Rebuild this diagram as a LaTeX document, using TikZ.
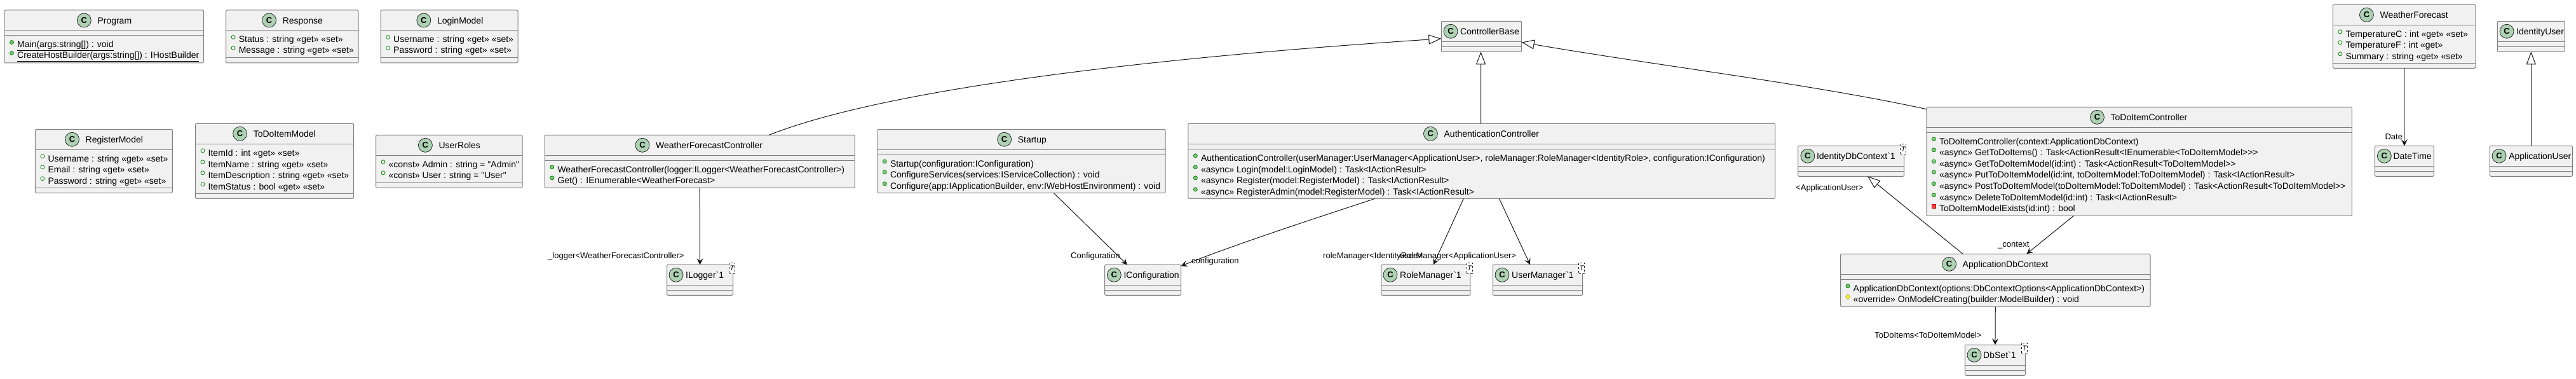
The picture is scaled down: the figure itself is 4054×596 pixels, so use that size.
\documentclass[tikz,border=0pt]{standalone}
\usepackage{fontspec}
\usetikzlibrary{arrows.meta,shapes.geometric}
\newfontfamily\umlfont{Liberation Sans}
\definecolor{boxfill}{HTML}{F1F1F1}
\definecolor{boxline}{HTML}{7F7F7F}
\definecolor{edgeline}{HTML}{181818}
\definecolor{spotfill}{HTML}{ADD1B2}
\tikzset{
  classbox/.style={draw=boxline,fill=boxfill,line width=1pt,rounded corners=2pt,inner sep=0pt,outer sep=0pt},
  classsep/.style={draw=boxline,line width=1pt},
  classmark/.style={circle,draw=edgeline,fill=spotfill,line width=.7pt,minimum size=22pt,inner sep=0pt,font=\umlfont\fontsize{13}{13}\selectfont\bfseries},
  classname/.style={anchor=base west,inner sep=0pt,font=\umlfont\fontsize{14}{16}\selectfont},
  rowtext/.style={anchor=base west,inner sep=0pt,font=\umlfont\fontsize{14}{16}\selectfont},
  edgelabel/.style={anchor=base west,inner sep=0pt,font=\umlfont\fontsize{13}{15}\selectfont},
  pubfield/.style={circle,draw=green!50!black,fill=white,line width=.8pt,minimum size=6pt,inner sep=0pt},
  pubmethod/.style={circle,draw=green!50!black,fill=green!40!gray!70,line width=.8pt,minimum size=6pt,inner sep=0pt},
  privmethod/.style={rectangle,draw=red!70!black,fill=red!75,line width=.6pt,minimum size=6pt,inner sep=0pt},
  protmethod/.style={diamond,draw=yellow!60!black,fill=yellow!90,line width=.6pt,minimum width=7pt,minimum height=9pt,inner sep=0pt},
  genericbox/.style={rectangle,dashed,draw=edgeline,fill=white,line width=.7pt,minimum width=9pt,minimum height=17pt,inner sep=0pt,font=\umlfont\fontsize{11}{11}\selectfont\itshape},
  inherit/.style={draw=edgeline,line width=1pt,-{Triangle[length=20pt,width=15pt,fill=white,line width=1pt]}},
  assoc/.style={draw=edgeline,line width=1pt,-{Stealth[length=10pt,width=10pt,inset=4pt]}},
}
% name, x1, y1, x2, y2, second rule, spot x, title offset, title
\newcommand{\umlclass}[9]{
  \node[classbox,minimum width={(#4-#2)*1pt},minimum height={(#5-#3)*1pt}] (#1) at ({(#2+#4)/2},{(#3+#5)/2}) {};
  \draw[classsep] (#2,{#3+32}) -- (#4,{#3+32});
  \draw[classsep] (#2,#6) -- (#4,#6);
  \node[classmark] (#1Spot) at (#7,{#3+16}) {C};
  \node[classname] (#1Name) at ({#7+#8},{#3+21.5}) {#9};
}
% class, baseline below the top, marker style, text
\newcommand{\umlrow}[4]{
  \node[#3] (#1Mark#2) at ([xshift=11.5pt,yshift={-(#2-8.5)*1pt}]#1.north west) {};
  \node[rowtext] (#1Row#2) at ([xshift=20pt,yshift={-#2*1pt}]#1.north west) {#4};
}
\newcommand{\umlgeneric}[1]{
  \node[genericbox] (#1Param) at ([xshift=-1.5pt,yshift=-5.5pt]#1.north east) {T};
}
\begin{document}
\begin{tikzpicture}[x=1pt,y=-1pt]
  \useasboundingbox (0,0) rectangle (4054,596);

  % classes, first row
  \umlclass{Program}{7}{16}{320.5}{99}{56}{132.3}{21}{Program}
  \umlrow{Program}{59}{pubmethod}{\underline{Main(args:string[]) : void}}
  \umlrow{Program}{76}{pubmethod}{\underline{CreateHostBuilder(args:string[]) : IHostBuilder}}
  \umlclass{Response}{355.6}{16}{564}{99}{91}{423.6}{21}{Response}
  \umlrow{Response}{51}{pubfield}{Status : string «get» «set»}
  \umlrow{Response}{68}{pubfield}{Message : string «get» «set»}
  \umlclass{LoginModel}{599}{16}{815}{99}{91}{666.8}{21}{LoginModel}
  \umlrow{LoginModel}{51}{pubfield}{Username : string «get» «set»}
  \umlrow{LoginModel}{68}{pubfield}{Password : string «get» «set»}
  \umlclass{ControllerBase}{2268.3}{33.3}{2394.7}{81.3}{73.3}{2283}{15}{ControllerBase}
  \umlclass{WeatherForecast}{3671.4}{7.3}{3895.7}{107.3}{99.3}{3724.4}{21}{WeatherForecast}
  \umlrow{WeatherForecast}{51}{pubfield}{TemperatureC : int «get» «set»}
  \umlrow{WeatherForecast}{68}{pubfield}{TemperatureF : int «get»}
  \umlrow{WeatherForecast}{86}{pubfield}{Summary : string «get» «set»}
  \umlclass{IdentityUser}{3930.3}{33.3}{4036.3}{81.3}{73.3}{3945}{15}{IdentityUser}

  % classes, second row
  \umlclass{RegisterModel}{55.4}{203.3}{271.4}{303.3}{295.3}{113.5}{21}{RegisterModel}
  \umlrow{RegisterModel}{51}{pubfield}{Username : string «get» «set»}
  \umlrow{RegisterModel}{68}{pubfield}{Email : string «get» «set»}
  \umlrow{RegisterModel}{86}{pubfield}{Password : string «get» «set»}
  \umlclass{ToDoItemModel}{307.5}{194.3}{556.5}{312.3}{304.3}{377.6}{21}{ToDoItemModel}
  \umlrow{ToDoItemModel}{51}{pubfield}{ItemId : int «get» «set»}
  \umlrow{ToDoItemModel}{69}{pubfield}{ItemName : string «get» «set»}
  \umlrow{ToDoItemModel}{86}{pubfield}{ItemDescription : string «get» «set»}
  \umlrow{ToDoItemModel}{104}{pubfield}{ItemStatus : bool «get» «set»}
  \umlclass{UserRoles}{591.5}{212.3}{822}{295.3}{287.3}{669.4}{21}{UserRoles}
  \umlrow{UserRoles}{51}{pubfield}{«const» Admin : string = "Admin"}
  \umlrow{UserRoles}{68}{pubfield}{«const» User : string = "User"}
  \umlclass{WeatherForecastController}{857.3}{212.3}{1345}{295.3}{252.3}{1011}{21}{WeatherForecastController}
  \umlrow{WeatherForecastController}{59}{pubmethod}{WeatherForecastController(logger:ILogger<WeatherForecastController>)}
  \umlrow{WeatherForecastController}{76}{pubmethod}{Get() : IEnumerable<WeatherForecast>}
  \umlclass{Startup}{1380.8}{203.3}{1834}{303.3}{243.3}{1580.6}{21}{Startup}
  \umlrow{Startup}{59}{pubmethod}{Startup(configuration:IConfiguration)}
  \umlrow{Startup}{76}{pubmethod}{ConfigureServices(services:IServiceCollection) : void}
  \umlrow{Startup}{94}{pubmethod}{Configure(app:IApplicationBuilder, env:IWebHostEnvironment) : void}
  \umlclass{AuthenticationController}{1869.8}{194.3}{2793.6}{312.3}{234.3}{2251.4}{21}{AuthenticationController}
  \umlrow{AuthenticationController}{59}{pubmethod}{AuthenticationController(userManager:UserManager<ApplicationUser>, roleManager:RoleManager<IdentityRole>, configuration:IConfiguration)}
  \umlrow{AuthenticationController}{77}{pubmethod}{«async» Login(model:LoginModel) : Task<IActionResult>}
  \umlrow{AuthenticationController}{94}{pubmethod}{«async» Register(model:RegisterModel) : Task<IActionResult>}
  \umlrow{AuthenticationController}{112}{pubmethod}{«async» RegisterAdmin(model:RegisterModel) : Task<IActionResult>}
  \umlclass{IdentityDbContext}{2829.5}{229.3}{2996.7}{277.3}{269.3}{2844.8}{14}{IdentityDbContext`1}
  \umlgeneric{IdentityDbContext}
  \umlclass{ToDoItemController}{3031.8}{168.3}{3701.4}{339.3}{208.3}{3300.4}{21}{ToDoItemController}
  \umlrow{ToDoItemController}{59}{pubmethod}{ToDoItemController(context:ApplicationDbContext)}
  \umlrow{ToDoItemController}{76}{pubmethod}{«async» GetToDoItems() : Task<ActionResult<IEnumerable<ToDoItemModel>>>}
  \umlrow{ToDoItemController}{94}{pubmethod}{«async» GetToDoItemModel(id:int) : Task<ActionResult<ToDoItemModel>>}
  \umlrow{ToDoItemController}{111}{pubmethod}{«async» PutToDoItemModel(id:int, toDoItemModel:ToDoItemModel) : Task<IActionResult>}
  \umlrow{ToDoItemController}{129}{pubmethod}{«async» PostToDoItemModel(toDoItemModel:ToDoItemModel) : Task<ActionResult<ToDoItemModel>>}
  \umlrow{ToDoItemController}{147}{pubmethod}{«async» DeleteToDoItemModel(id:int) : Task<IActionResult>}
  \umlrow{ToDoItemController}{164}{privmethod}{ToDoItemModelExists(id:int) : bool}
  \umlclass{DateTime}{3737.4}{229.3}{3830.3}{277.3}{269.3}{3752.3}{14}{DateTime}
  \umlclass{ApplicationUser}{3918.3}{229.3}{4048.3}{277.3}{269.3}{3933}{15}{ApplicationUser}

  % classes, lower rows
  \umlclass{ApplicationDbContext}{2896.5}{399.3}{3384}{482.3}{439.3}{3067.5}{21}{ApplicationDbContext}
  \umlrow{ApplicationDbContext}{59}{pubmethod}{ApplicationDbContext(options:DbContextOptions<ApplicationDbContext>)}
  \umlrow{ApplicationDbContext}{76}{protmethod}{«override» OnModelCreating(builder:ModelBuilder) : void}
  \umlclass{ILogger}{1049.5}{416.3}{1153.5}{464.3}{456.3}{1064}{15}{ILogger`1}
  \umlgeneric{ILogger}
  \umlclass{IConfiguration}{1738.7}{416.3}{1858.7}{464.3}{456.3}{1753.3}{15}{IConfiguration}
  \umlclass{RoleManager}{2173.8}{416.3}{2313.9}{464.3}{456.3}{2188}{15}{RoleManager`1}
  \umlgeneric{RoleManager}
  \umlclass{UserManager}{2349.4}{416.3}{2490.6}{464.3}{456.3}{2364}{15}{UserManager`1}
  \umlgeneric{UserManager}
  \umlclass{DbSet}{3092.4}{542.3}{3187.4}{590.3}{582.3}{3107}{14}{DbSet`1}
  \umlgeneric{DbSet}

  % inheritance
  \draw[inherit] ([xshift=109pt]WeatherForecastController.north) .. controls (1420,130) and (1900,85) .. ([yshift=-3.5pt]ControllerBase.west);
  \draw[inherit] ([xshift=-1pt]AuthenticationController.north) -- ([xshift=-1pt]ControllerBase.south);
  \draw[inherit] ([yshift=-3.4pt]ToDoItemController.north west) .. controls (2850,132) and (2600,102) .. ([yshift=-9.2pt]ControllerBase.east);
  \draw[inherit] ([xshift=-51.25pt]ApplicationDbContext.north) -- ([xshift=26pt]IdentityDbContext.south);
  \draw[inherit] (ApplicationUser.north) -- (IdentityUser.south);

  % associations
  \draw[assoc] (WeatherForecastController.south) -- (ILogger.north);
  \draw[assoc] ([xshift=50.6pt]Startup.south) -- ([xshift=-24.7pt]IConfiguration.north);
  \draw[assoc] ([xshift=-167.7pt]AuthenticationController.south) .. controls (2080,340) and (1950,382) .. ([yshift=-2pt]IConfiguration.north east);
  \draw[assoc] ([xshift=-28.4pt]AuthenticationController.south) -- ([xshift=12pt]RoleManager.north);
  \draw[assoc] ([xshift=27.7pt]AuthenticationController.south) -- ([xshift=-12pt]UserManager.north);
  \draw[assoc] ([xshift=-103.2pt]ToDoItemController.south) -- ([xshift=49.15pt]ApplicationDbContext.north);
  \draw[assoc] (ApplicationDbContext.south) -- (DbSet.north);
  \draw[assoc] (WeatherForecast.south) -- (DateTime.north);

  % labels
  \node[edgelabel] (loggerLabel) at (862,406.4) {\_logger<WeatherForecastController>};
  \node[edgelabel] (startupLabel) at (1685,406.4) {Configuration};
  \node[edgelabel] (authLabel) at (1875,414.7) {configuration};
  \node[edgelabel] (roleLabel) at (2082,406.4) {roleManager<IdentityRole>};
  \node[edgelabel] (userLabel) at (2203,406.4) {userManager<ApplicationUser>};
  \node[edgelabel] (contextLabel) at (3144,388.7) {\_context};
  \node[edgelabel] (identityLabel) at (2826,299.4) {<ApplicationUser>};
  \node[edgelabel] (itemsLabel) at (2950,531.4) {ToDoItems<ToDoItemModel>};
  \node[edgelabel] (dateLabel) at (3753.3,219) {Date};
\end{tikzpicture}
\end{document}
